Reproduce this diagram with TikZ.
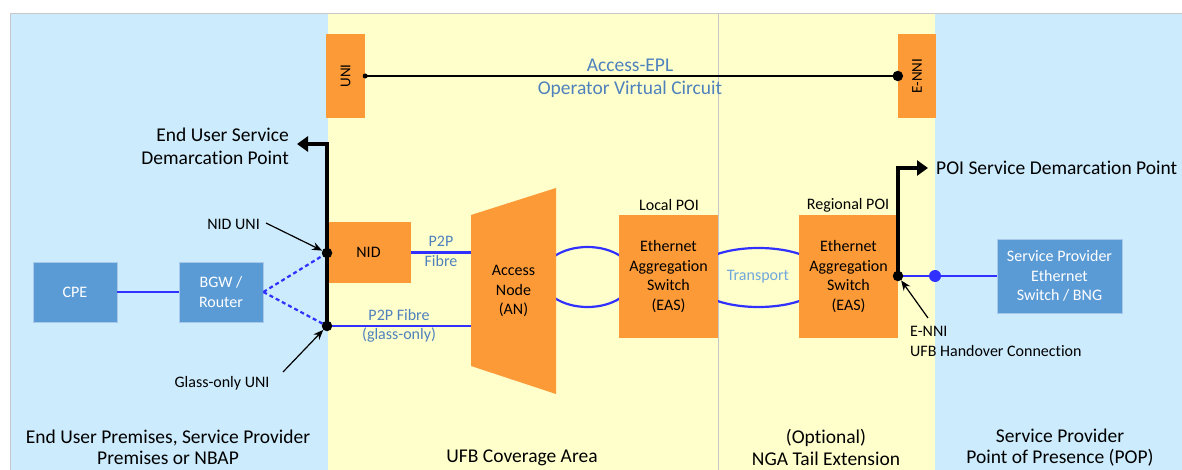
\documentclass[tikz,border=0pt]{standalone}
\usepackage{fontspec}
\setmainfont{Carlito}[Ligatures={NoCommon,NoContextual}]
\usetikzlibrary{arrows.meta}
\definecolor{panelblue}{HTML}{CCEBFC}
\definecolor{panelyellow}{HTML}{FFFFCC}
\definecolor{panelgray}{HTML}{C8C8C8}
\definecolor{orng}{HTML}{FD9A38}
\definecolor{boxblue}{HTML}{5B9BD5}
\definecolor{boxedge}{HTML}{A9C9EA}
\definecolor{linkblue}{HTML}{3030FF}
\definecolor{textblue}{HTML}{4F81BD}
\definecolor{lightblue}{HTML}{6FA8DC}
\newcommand{\fbig}{\fontsize{19.5}{23}\selectfont}
\newcommand{\fbot}{\fontsize{19.5}{21.5}\selectfont}
\newcommand{\fmid}{\fontsize{16}{19.5}\selectfont}
\newcommand{\funi}{\fontsize{15}{18}\selectfont}
\begin{document}
\begin{tikzpicture}[x=1pt,y=-1pt,
  panel/.style={draw=panelgray, line width=1pt},
  orangebox/.style={fill=orng, inner sep=0pt, align=center, font=\fmid},
  bluebox/.style={fill=boxblue, draw=boxedge, line width=0.8pt, text=white, inner sep=0pt, align=center, font=\fmid},
  blueline/.style={draw=linkblue, line width=2.2pt},
  demarc/.style={line width=3.6pt, line join=miter, -{Triangle[length=11pt,width=15pt]}},
  pointer/.style={line width=1.2pt, -{Stealth[length=10pt,width=8pt]}},
  dotc/.style={circle, fill=black, inner sep=0pt, minimum size=10.5pt},
  bigtxt/.style={font=\fbig, align=center, inner sep=0pt},
  bottxt/.style={font=\fbot, align=center, inner sep=0pt},
  midtxt/.style={font=\fmid, align=center, inner sep=0pt},
  bluetxt/.style={font=\fmid, align=center, inner sep=0pt, text=textblue}
]
\useasboundingbox (0,0) rectangle (1182,470);
\fill[white] (0,0) rectangle (1182,470);
% panels
\fill[panelblue] (10,14) rectangle (328,475);
\fill[panelyellow] (328,14) rectangle (718,475);
\fill[panelyellow] (718,14) rectangle (935,475);
\fill[panelblue] (935,14) rectangle (1190,475);
\draw[panel] (10,475) -- (10,14) -- (1190,14);
\draw[panel] (718,14) -- (718,475);

% loops (behind boxes)
\draw[linkblue, line width=2.2pt] (587.5,277) ellipse [x radius=46pt, y radius=30pt];
\draw[linkblue, line width=2.2pt] (758.5,277.5) ellipse [x radius=68pt, y radius=29.5pt];

% boxes
\node[orangebox, minimum width=39pt, minimum height=84pt] (uni) at (345.5,76) {\funi\rotatebox{90}{UNI}};
\node[orangebox, minimum width=38pt, minimum height=84pt] (enni) at (917,76) {\funi\rotatebox{90}{E-NNI}};
\node[orangebox, minimum width=85pt, minimum height=61pt] (nid) at (368.5,252.5) {NID};
\fill[orng] (471,215) -- (556,188) -- (556,394) -- (471,366) -- cycle;
\node[midtxt] (an) at (513.5,291) {Access\\Node\\(AN)};
\coordinate (anin1) at (471,252.5);
\coordinate (anin2) at (471,326);
\node[orangebox, minimum width=99pt, minimum height=123pt] (leas) at (668.5,276.5) {Ethernet\\Aggregation\\Switch\\(EAS)};
\node[orangebox, minimum width=99pt, minimum height=123pt] (reas) at (848.5,276.5) {Ethernet\\Aggregation\\Switch\\(EAS)};
\node[midtxt] (lpoi) at (669,205) {Local POI};
\node[midtxt] (rpoi) at (848,205) {Regional POI};
\node[font=\fmid, inner sep=0pt, text=lightblue] (transport) at (758,277) {Transport};

\node[bluebox, minimum width=84pt, minimum height=60pt] (cpe) at (75,292) {CPE};
\node[bluebox, minimum width=84pt, minimum height=60pt] (bgw) at (221,292) {BGW /\\Router};
\node[bluebox, minimum width=125pt, minimum height=74pt] (sp) at (1059.5,276) {Service Provider\\Ethernet\\Switch / BNG};

% access EPL
\draw[line width=1.8pt] (uni.east) -- (enni.west);
\fill (uni.east) circle (2.5pt);
\node[dotc] (enniDot) at (enni.west) {};
\node[font=\fbig, text=textblue, inner sep=0pt] (epl1) at (630,65) {Access-EPL};
\node[font=\fbig, text=textblue, inner sep=0pt] (epl2) at (630,89) {Operator Virtual Circuit};

% left side links
\draw[blueline] (cpe.east) -- (bgw.west);
\coordinate (ndotc) at (327,253);
\coordinate (gdotc) at (327,326);
\draw[blueline, dash pattern=on 4pt off 3pt] (bgw.east) -- (ndotc);
\draw[blueline, dash pattern=on 4pt off 3pt] (bgw.east) -- (gdotc);
\draw[blueline] (nid.east) -- (anin1);
\draw[blueline] (gdotc) -- (anin2);
\node[bluetxt] (p2p1) at (441,251.5) {P2P\\Fibre};
\node[bluetxt] (p2p2) at (399,326) {P2P Fibre\\(glass-only)};

% end user demarcation
\node[bigtxt, align=right, anchor=east] (eudem) at (289,146) {End User Service\\Demarcation Point};
\coordinate (eucorner) at (327,144);
\coordinate (eutip) at (297,144);
\draw[demarc] (gdotc) -- (eucorner) -- (eutip);
\node[dotc] (ndot) at (ndotc) {};
\node[dotc] (gdot) at (gdotc) {};

\node[midtxt, anchor=east] (niduni) at (260,224) {NID UNI};
\node[midtxt] (glassuni) at (222,383) {Glass-only UNI};
\coordinate (nidstart) at (266,223);
\coordinate (glstart) at (283,372);
\draw[pointer] (nidstart) -- (ndot);
\draw[pointer] (glstart) -- (gdot);

% right side
\coordinate (edotc) at (898,276);
\coordinate (poicorner) at (898,168);
\coordinate (poitip) at (928,168);
\node[bigtxt, anchor=west] (poidem) at (936,168) {POI Service Demarcation Point};
\draw[blueline] (edotc) -- (sp.west);
\draw[demarc] (edotc) -- (poicorner) -- (poitip);
\node[dotc] (edot) at (edotc) {};
\node[circle, fill=linkblue, inner sep=0pt, minimum size=12pt] (bdot) at (935,276) {};
\node[midtxt, align=left, anchor=west] (ennilbl) at (910,341.5) {E-NNI\\UFB Handover Connection};
\coordinate (ennistart) at (928,318);
\draw[pointer] (ennistart) -- (edot);

% bottom labels
\node[bottxt] (lab1) at (168,447.5) {End User Premises, Service Provider\\Premises or NBAP};
\node[bottxt] (lab2) at (522,458) {UFB Coverage Area};
\node[bottxt] (lab3) at (826,447.5) {(Optional)\\NGA Tail Extension};
\node[bottxt] (lab4) at (1060,447.5) {Service Provider\\Point of Presence (POP)};
\end{tikzpicture}
\end{document}
